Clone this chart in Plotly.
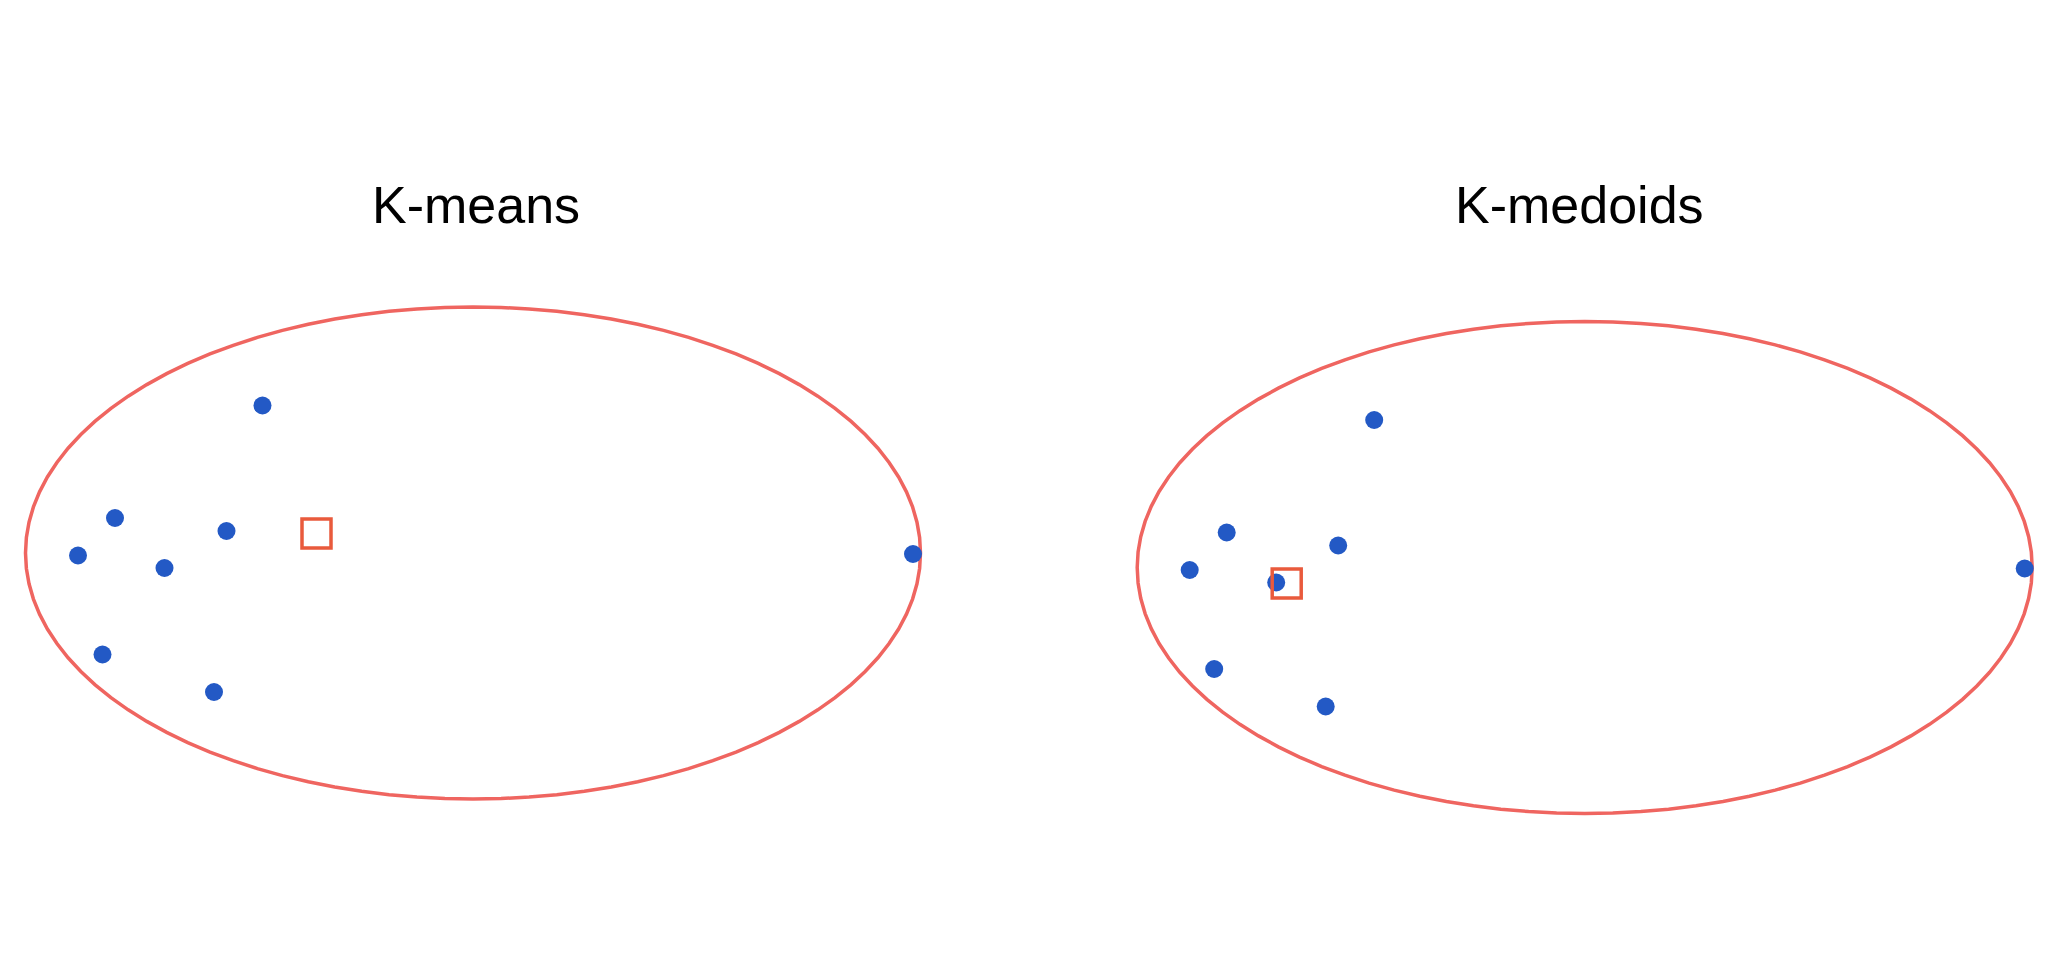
import numpy as np
import plotly.graph_objects as go

# ---- data (shared by both panels), units: arbitrary feature space ----
point_x = [-4.21, -7.16, -4.93, -7.90, -6.17, -7.41, -5.18, 8.80]
point_y = [2.95, 0.70, 0.44, -0.05, -0.30, -2.03, -2.78, -0.02]

panel_titles = ["K-means", "K-medoids"]
center_x = [-3.13, -5.96]   # mean (left) and medoid (right)
center_y = [0.39, -0.32]

ellipse_cx = 0.0
ellipse_cy = 0.0
ellipse_rx = 8.95
ellipse_ry = 4.92

# ---- styling ----
W, H = 2072, 960
BLUE = "#2359C5"
ELLIPSE_RED = "#EF6560"
SQUARE_RED = "#E95A3C"

unit = 50.0  # px per data unit
# left panel pixel placement of plot area
lx0, lx1 = 0.0, 946.0
ly0, ly1 = 280.0, 830.0
# right panel offset in px
dx, dy = 1111.7, 14.5

xr = [-473.0 / unit, (lx1 - 473.0) / unit]
yr = [(553.0 - ly1) / unit, (553.0 - ly0) / unit]

t = np.linspace(0, 2 * np.pi, 101)
ex = ellipse_cx + ellipse_rx * np.cos(t)
ey = ellipse_cy + ellipse_ry * np.sin(t)

fig = go.Figure()
for i in range(2):
    xa = "x" if i == 0 else "x2"
    ya = "y" if i == 0 else "y2"
    fig.add_trace(go.Scatter(x=ex, y=ey, mode="lines",
                             line=dict(color=ELLIPSE_RED, width=3.5),
                             hoverinfo="skip", xaxis=xa, yaxis=ya))
    fig.add_trace(go.Scatter(x=point_x, y=point_y, mode="markers",
                             marker=dict(color=BLUE, size=18),
                             xaxis=xa, yaxis=ya))
    fig.add_trace(go.Scatter(x=[center_x[i]], y=[center_y[i]], mode="markers",
                             marker=dict(symbol="square-open", size=29,
                                         color=SQUARE_RED,
                                         line=dict(color=SQUARE_RED, width=3.5)),
                             xaxis=xa, yaxis=ya))

def xdom(a, b):
    return [a / W, b / W]

def ydom(top, bottom):
    return [1 - bottom / H, 1 - top / H]

axis_common = dict(visible=False, showgrid=False, zeroline=False, fixedrange=True)
fig.update_layout(
    width=W, height=H,
    margin=dict(l=0, r=0, t=0, b=0),
    paper_bgcolor="white", plot_bgcolor="white",
    showlegend=False,
    xaxis=dict(domain=xdom(lx0, lx1), range=xr, anchor="y", **axis_common),
    yaxis=dict(domain=ydom(ly0, ly1), range=yr, anchor="x", **axis_common),
    xaxis2=dict(domain=xdom(lx0 + dx, lx1 + dx), range=xr, anchor="y2", **axis_common),
    yaxis2=dict(domain=ydom(ly0 + dy, ly1 + dy), range=yr, anchor="x2", **axis_common),
)

title_px_x = [476, 1579]
for i, txt in enumerate(panel_titles):
    fig.add_annotation(text=txt, x=title_px_x[i] / W, y=1 - 205 / H,
                       xref="paper", yref="paper", xanchor="center", yanchor="middle",
                       showarrow=False,
                       font=dict(family="Arial, Liberation Sans, sans-serif", size=52, color="black"))

fig.write_html("out.html",
               config={"displayModeBar": False},
               post_script="document.body.style.margin='0';document.body.style.overflow='hidden';")
